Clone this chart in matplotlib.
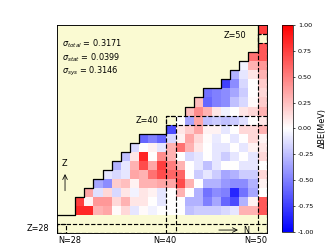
import numpy as np
import matplotlib
matplotlib.use("Agg")
import matplotlib.pyplot as plt
from matplotlib.patches import Rectangle

# ---- data: Delta BE (MeV) per proton number Z, starting at neutron number n_start[Z] ----
n_start = {30: 30, 31: 30, 32: 31, 33: 32, 34: 33, 35: 34, 36: 35, 37: 36, 38: 37,
           39: 40, 40: 40, 41: 42, 42: 43, 43: 44, 44: 46, 45: 47, 46: 48, 47: 49,
           48: 50, 50: 50}
dbe_z30 = [0.85, 0.85, 0.3, 0.35, 0.02, 0.15, -0.1, 0.02, -0.05, 0.0, 0.0, 0.0, -0.25, -0.2, -0.2, -0.2, -0.15, -0.1, 0.3, 0.3, 0.65]
dbe_z31 = [0.75, 0.05, 0.4, 0.4, 0.15, 0.3, 0.1, 0.1, 0.0, -0.1, 0.0, 0.0, -0.3, -0.3, -0.5, -0.35, -0.6, -0.7, -0.3, 0.05, 0.65]
dbe_z32 = [0.35, -0.12, 0.15, -0.15, 0.1, -0.05, 0.1, 0.05, -0.1, 0.0, 0.3, 0.0, -0.3, -0.55, -0.45, -0.5, -0.85, -0.55, -0.35, 0.0]
dbe_z33 = [-0.35, -0.45, 0.2, 0.25, 0.05, 0.3, 0.3, 0.35, 0.35, 0.7, 0.3, 0.0, -0.3, -0.3, -0.4, -0.45, -0.45, -0.3, 0.05]
dbe_z34 = [-0.1, -0.15, -0.1, 0.35, 0.3, 0.55, 0.7, 0.6, 0.6, 0.0, -0.2, -0.1, -0.2, -0.35, -0.3, -0.2, -0.2, 0.15]
dbe_z35 = [-0.3, -0.1, 0.3, 0.7, 0.35, 0.75, 0.5, 0.3, 0.0, -0.1, -0.25, -0.1, 0.0, 0.0, -0.1, -0.1, 0.0]
dbe_z36 = [-0.25, 0.1, 0.85, 0.0, 0.45, 0.3, 0.0, -0.15, -0.1, 0.0, -0.1, -0.2, -0.1, 0.0, -0.1, 0.15]
dbe_z37 = [-0.15, 0.0, 0.05, -0.1, 0.3, 0.55, 0.3, 0.1, 0.0, -0.1, -0.1, 0.0, -0.1, 0.05, 0.1]
dbe_z38 = [-0.6, -0.5, -0.6, -0.15, 0.05, 0.35, 0.15, 0.02, -0.08, 0.0, -0.1, 0.0, 0.15, 0.05]
dbe_z39 = [-0.7, 0.1, 0.2, 0.35, 0.05, 0.05, -0.1, 0.0, 0.15, 0.15, 0.3]
dbe_z40 = [np.nan, 0.0, -0.35, 0.35, -0.25, -0.2, -0.25, -0.2, -0.12, 0.0, 0.1]
dbe_z41 = [0.25, 0.45, 0.3, 0.1, -0.05, 0.0, 0.1, 0.15, 0.3]
dbe_z42 = [0.25, -0.6, -0.5, -0.45, -0.25, -0.15, 0.02, 0.2]
dbe_z43 = [-0.55, -0.5, -0.45, -0.35, -0.2, 0.0, 0.15]
dbe_z44 = [-0.75, -0.45, -0.15, 0.0, 0.2]
dbe_z45 = [-0.3, -0.1, 0.1, 0.3]
dbe_z46 = [-0.05, 0.3, 0.4]
dbe_z47 = [0.55, 0.65]
dbe_z48 = [0.65]
dbe_z50 = [0.75]

rows = {30: dbe_z30, 31: dbe_z31, 32: dbe_z32, 33: dbe_z33, 34: dbe_z34, 35: dbe_z35,
        36: dbe_z36, 37: dbe_z37, 38: dbe_z38, 39: dbe_z39, 40: dbe_z40, 41: dbe_z41,
        42: dbe_z42, 43: dbe_z43, 44: dbe_z44, 45: dbe_z45, 46: dbe_z46, 47: dbe_z47,
        48: dbe_z48, 50: dbe_z50}

magic = [28, 40, 50]
sigma_labels = [r"$\sigma_{total}$ = 0.3171", r"$\sigma_{stat}$ = 0.0399", r"$\sigma_{sys}$ = 0.3146"]

N_min, N_max, Z_min, Z_max = 28, 50, 28, 50
grid = np.full((Z_max - Z_min + 1, N_max - N_min + 1), np.nan)
for z, vals in rows.items():
    n0 = n_start[z]
    for i, v in enumerate(vals):
        grid[z - Z_min, n0 + i - N_min] = v

fig = plt.figure(figsize=(4, 3), dpi=83)
ax = fig.add_axes([57 / 332, 1 - 233.3 / 249, 209.7 / 332, 208.3 / 249])
ax.set_facecolor("#FAFAD2")
n_edges = np.arange(N_min - 0.5, N_max + 1.0)
z_edges = np.arange(Z_min - 0.5, Z_max + 1.0)
mesh = ax.pcolormesh(n_edges, z_edges, np.ma.masked_invalid(grid), cmap="bwr", vmin=-1, vmax=1)
ax.set_xlim(N_min - 0.5, N_max + 0.5)
ax.set_ylim(Z_min - 0.5, Z_max + 0.5)
ax.set_xticks([])
ax.set_yticks([])

# drip-line staircase from the data boundary (broken at Z=40 row)
def first_n(z):
    vals = grid[z - Z_min]
    idx = np.where(~np.isnan(vals))[0]
    return N_min + idx[0] if len(idx) else N_max

lower_x, lower_y = [N_min - 0.5], [29.5]
for z in range(30, 40):
    nb = first_n(z) - 0.5
    lower_x += [nb, nb]
    lower_y += [z - 0.5, z + 0.5]
upper_x, upper_y = [], []
for z in range(41, 51):
    nb = first_n(z) - 0.5
    upper_x += [nb, nb]
    upper_y += [z - 0.5, z + 0.5]
ax.plot(lower_x, lower_y, color="black", lw=1.1, zorder=3)
ax.plot(upper_x, upper_y, color="black", lw=1.1, zorder=3)

# magic number boxes
dash = dict(fill=False, ls="--", lw=1.0, ec="black", zorder=4)
ax.add_patch(Rectangle((N_min - 0.5, magic[0] - 0.5), N_max - N_min + 1, 1, **dash))
ax.add_patch(Rectangle((magic[0] - 0.5, Z_min - 0.5), 1, 1, **dash))
ax.add_patch(Rectangle((magic[1] - 0.5, Z_min - 0.5), 1, magic[1] - Z_min + 1, **dash))
ax.add_patch(Rectangle((magic[1] - 0.5, magic[1] - 0.5), N_max - magic[1] + 1, 1, **dash))
ax.add_patch(Rectangle((magic[2] - 0.5, Z_min - 0.5), 1, magic[2] - Z_min, **dash))
ax.add_patch(Rectangle((magic[2] - 0.5, magic[2] - 1.5), 1, 1, **dash))

fs = 7
ax.text(48.3, 49.33, "Z=50", ha="right", va="center", fontsize=fs)
ax.text(38.6, 40.0, "Z=40", ha="right", va="center", fontsize=fs)
ax.text(26.62, 28.08, "Z=28", ha="right", va="center", fontsize=fs, clip_on=False)
for lab, xx in zip(["N=28", "N=40", "N=50"], [28.9, 39.35, 49.27]):
    ax.text(xx, 26.65, lab, ha="center", va="center", fontsize=fs, clip_on=False)

for lab, yy in zip(sigma_labels, [48.47, 46.93, 45.34]):
    ax.text(28.0, yy, lab, ha="left", va="center", fontsize=fs)

ax.annotate("", xy=(28.38, 34.3), xytext=(28.38, 31.95),
            arrowprops=dict(arrowstyle="->", lw=0.7, color="black"))
ax.text(28.32, 35.26, "Z", ha="center", va="center", fontsize=fs)
ax.annotate("", xy=(47.6, 27.86), xytext=(45.0, 27.86),
            arrowprops=dict(arrowstyle="->", lw=0.7, color="black"))
ax.text(48.25, 27.86, "N", ha="center", va="center", fontsize=fs)

cax = fig.add_axes([281.7 / 332, 1 - 231.7 / 249, 11.6 / 332, 206.7 / 249])
cb = fig.colorbar(mesh, cax=cax, ticks=np.arange(-1, 1.01, 0.25), format="%.2f")
cb.ax.tick_params(labelsize=5.5, length=2, width=0.6, pad=2)
cb.set_label("ΔBE(MeV)", fontsize=7, labelpad=3)
cb.outline.set_linewidth(0.6)

fig.savefig("out.png", dpi=83)
